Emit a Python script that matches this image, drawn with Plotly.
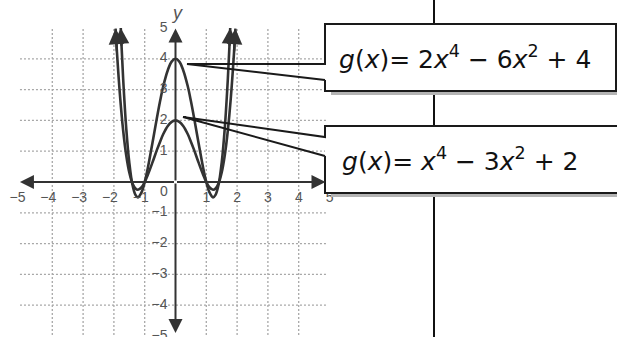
import plotly.graph_objects as go

# ---------------- data ----------------
grid_ticks = [-4, -3, -2, -1, 1, 2, 3, 4]
x_tick_vals = [-5, -4, -3, -2, -1, 1, 2, 3, 4, 5]
x_tick_text = ["−5", "−4", "−3", "−2", "−1", "1", "2", "3", "4", "5"]
y_tick_vals = [5, 4, 3, 2, 1, -1, -2, -3, -4, -5]
y_tick_text = ["5", "4", "3", "2", "1", "−1", "−2", "−3", "−4", "−5"]

# g(x) = 2x^4 - 6x^2 + 4
x_big = [-1.777, -1.75, -1.7, -1.6, -1.5, -1.4, -1.3, -1.22, -1.1, -1.0, -0.9, -0.75, -0.6, -0.5, -0.4, -0.25, -0.125, 0,
         0.125, 0.25, 0.4, 0.5, 0.6, 0.75, 0.9, 1.0, 1.1, 1.22, 1.3, 1.4, 1.5, 1.6, 1.7, 1.75, 1.777]
y_big = [5.0, 4.38, 3.36, 1.75, 0.63, -0.08, -0.42, -0.5, -0.33, 0.0, 0.45, 1.26, 2.10, 2.63, 3.10, 3.63, 3.91, 4.0,
         3.91, 3.63, 3.10, 2.63, 2.10, 1.26, 0.45, 0.0, -0.33, -0.5, -0.42, -0.08, 0.63, 1.75, 3.36, 4.38, 5.0]

# g(x) = x^4 - 3x^2 + 2
x_small = [-1.946, -1.9, -1.8, -1.7, -1.6, -1.5, -1.4, -1.3, -1.22, -1.1, -1.0, -0.9, -0.75, -0.6, -0.5, -0.4, -0.25, -0.125, 0,
           0.125, 0.25, 0.4, 0.5, 0.6, 0.75, 0.9, 1.0, 1.1, 1.22, 1.3, 1.4, 1.5, 1.6, 1.7, 1.8, 1.9, 1.946]
y_small = [4.98, 4.20, 2.78, 1.68, 0.87, 0.31, -0.04, -0.21, -0.25, -0.17, 0.0, 0.23, 0.63, 1.05, 1.31, 1.55, 1.82, 1.95, 2.0,
           1.95, 1.82, 1.55, 1.31, 1.05, 0.63, 0.23, 0.0, -0.17, -0.25, -0.21, -0.04, 0.31, 0.87, 1.68, 2.78, 4.20, 4.98]

label_big = "<i>g</i>(<i>x</i>)= 2<i>x</i><sup>4</sup> − 6<i>x</i><sup>2</sup> + 4"
label_small = "<i>g</i>(<i>x</i>)= <i>x</i><sup>4</sup> − 3<i>x</i><sup>2</sup> + 2"

# ---------------- layout helpers ----------------
W, H = 617, 337
OX, OY, U = 175.5, 182.0, 30.8   # pixel position of origin, pixels per unit


def PX(p):   # pixel x -> paper
    return p / W


def PY(q):   # pixel y -> paper
    return 1 - q / H


CURVE = "#333333"
GRID = "#a8a8a8"
LABEL = "#555555"

fig = go.Figure()

# grid lines (dotted)
shapes = []
for t in grid_ticks:
    shapes.append(dict(type="line", xref="x", yref="y", x0=t, x1=t, y0=-5.1, y1=5.0,
                       line=dict(color=GRID, width=1.3, dash="2px,2px"), layer="below"))
    shapes.append(dict(type="line", xref="x", yref="y", y0=t, y1=t, x0=-5.05, x1=4.95,
                       line=dict(color=GRID, width=1.3, dash="2px,2px"), layer="below"))

# curves
fig.add_trace(go.Scatter(x=x_big, y=y_big, mode="lines", line=dict(color=CURVE, width=2.6, shape="spline", smoothing=1.0),
                         hoverinfo="skip", showlegend=False))
fig.add_trace(go.Scatter(x=x_small, y=y_small, mode="lines", line=dict(color=CURVE, width=2.6, shape="spline", smoothing=1.0),
                         hoverinfo="skip", showlegend=False))

# tick labels (as text traces so the callout boxes can cover them)
off = 4 / U
fig.add_trace(go.Scatter(x=[v + off for v in x_tick_vals], y=[-16 / U] * len(x_tick_vals), mode="text",
                         text=x_tick_text, textposition="middle left",
                         textfont=dict(family="Liberation Sans, Arial", size=14, color=LABEL),
                         hoverinfo="skip", showlegend=False))
fig.add_trace(go.Scatter(x=[-8 / U] * len(y_tick_vals), y=y_tick_vals, mode="text",
                         text=y_tick_text, textposition="middle left",
                         textfont=dict(family="Liberation Sans, Arial", size=14, color=LABEL),
                         hoverinfo="skip", showlegend=False))
fig.add_trace(go.Scatter(x=[-11.5 / U], y=[-10 / U], mode="text", text=["0"], textposition="middle center",
                         textfont=dict(family="Liberation Sans, Arial", size=14, color=LABEL),
                         hoverinfo="skip", showlegend=False))
fig.add_trace(go.Scatter(x=[2 / U], y=[168 / U], mode="text", text=["<i>y</i>"], textposition="middle center",
                         textfont=dict(family="Liberation Sans, Arial", size=18, color=LABEL),
                         hoverinfo="skip", showlegend=False))

# vertical divider line
shapes.append(dict(type="line", xref="paper", yref="paper", x0=PX(434), x1=PX(434), y0=0, y1=1,
                   line=dict(color="#111111", width=2), layer="above"))


def callout(box, tip, gap, shadow_color="#b4b4b4"):
    x0, y0, x1, y1 = box
    g0, g1 = gap
    out = []
    # shadow
    out.append(dict(type="rect", xref="paper", yref="paper", x0=PX(x0 + 6), x1=PX(x1 + 3), y0=PY(y1 + 4), y1=PY(y1),
                    fillcolor=shadow_color, line=dict(width=0), layer="above"))
    # white box
    out.append(dict(type="rect", xref="paper", yref="paper", x0=PX(x0), x1=PX(x1), y0=PY(y1), y1=PY(y0),
                    fillcolor="white", line=dict(width=0), layer="above"))
    # outline with open notch + wedge lines
    pts = [(x0, g1), (x0, y1), (x1, y1), (x1, y0), (x0, y0), (x0, g0), tip, (x0, g1)]
    path = "M " + " L ".join(f"{PX(a):.5f},{PY(b):.5f}" for a, b in pts)
    out.append(dict(type="path", xref="paper", yref="paper", path=path,
                    line=dict(color="#1a1a1a", width=2), layer="above"))
    return out


shapes += callout((325, 24, 616, 91), (187, 64), (64, 80))
shapes += callout((325, 126, 625, 193), (183, 117), (137, 156))

annotations = []
# axis arrows
for (xa, ya) in [(4.87, 0), (-5.05, 0), (0, 4.98), (0, -4.9)]:
    annotations.append(dict(x=xa, y=ya, ax=0, ay=0, xref="x", yref="y", axref="x", ayref="y", text="",
                            showarrow=True, arrowhead=2, arrowsize=1.4, arrowwidth=2, arrowcolor=CURVE, standoff=0))
# curve-end arrows
for xs, ys in [(x_big, y_big), (x_small, y_small)]:
    for i_end, i_prev in [(0, 1), (-1, -2)]:
        annotations.append(dict(x=xs[i_end], y=ys[i_end], ax=xs[i_prev], ay=ys[i_prev], xref="x", yref="y",
                                axref="x", ayref="y", text="", showarrow=True, arrowhead=2, arrowsize=1.3,
                                arrowwidth=2.4, arrowcolor=CURVE, standoff=0))

annotations.append(dict(x=PX(465), y=PY(58), xref="paper", yref="paper", text=label_big, showarrow=False,
                        xanchor="center", yanchor="middle",
                        font=dict(family="DejaVu Sans", size=25, color="#111111")))
annotations.append(dict(x=PX(460), y=PY(159), xref="paper", yref="paper", text=label_small, showarrow=False,
                        xanchor="center", yanchor="middle",
                        font=dict(family="DejaVu Sans", size=25, color="#111111")))

fig.update_layout(
    width=W, height=H, margin=dict(l=0, r=0, t=0, b=0),
    paper_bgcolor="white", plot_bgcolor="white",
    xaxis=dict(range=[-OX / U, (W - OX) / U], visible=False, showgrid=False, zeroline=False, fixedrange=True),
    yaxis=dict(range=[(OY - H) / U, OY / U], visible=False, showgrid=False, zeroline=False, fixedrange=True),
    shapes=shapes, annotations=annotations, showlegend=False,
)

fig.write_html("out.html", config={"displayModeBar": False},
               post_script="document.body.style.margin='0';document.body.style.overflow='hidden';")
